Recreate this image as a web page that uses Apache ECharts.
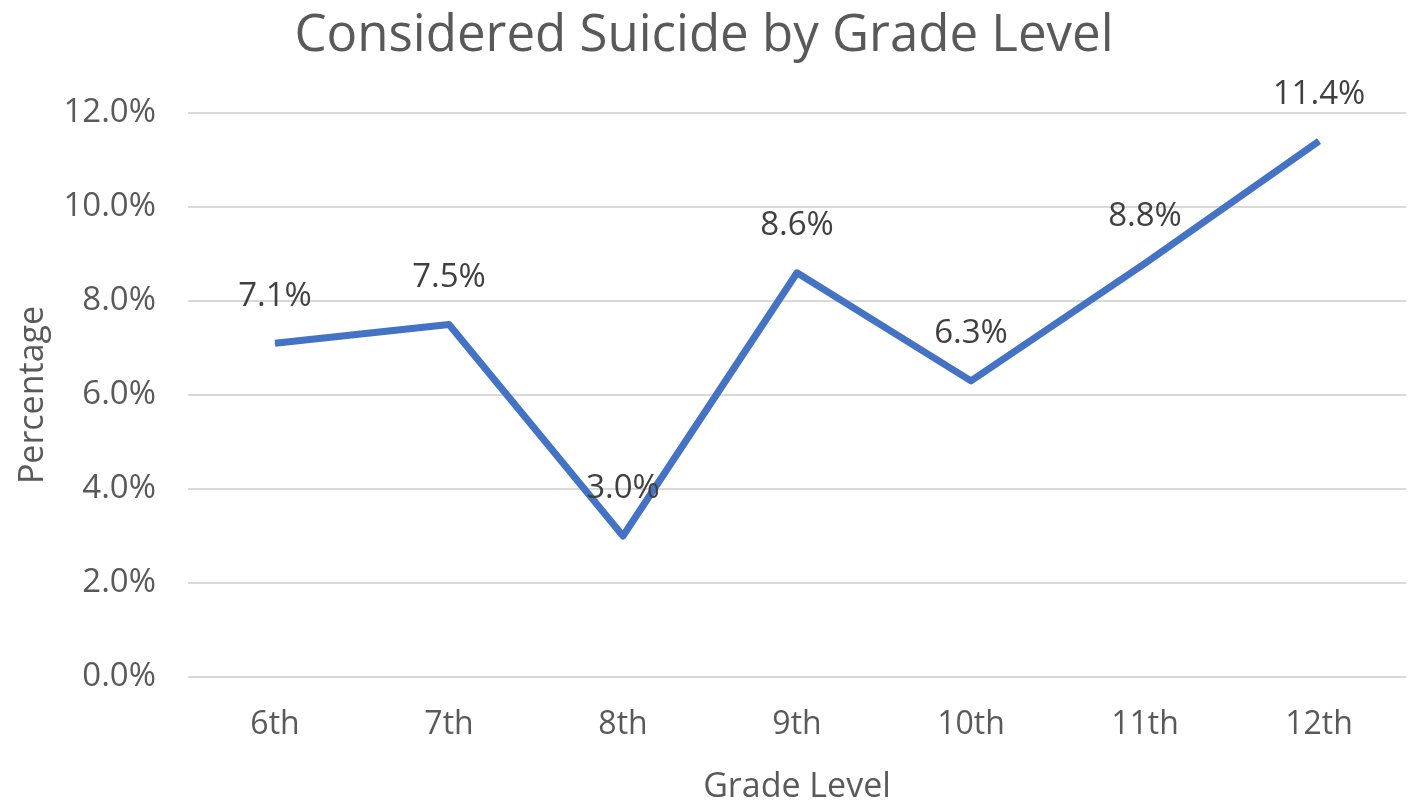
<!DOCTYPE html>
<html>
<head>
<meta charset="utf-8">
<script src="https://cdn.jsdelivr.net/npm/echarts@6/dist/echarts.min.js"></script>
<style>html,body{margin:0;padding:0;background:#fff}#c{width:1408px;height:808px}</style>
</head>
<body>
<div id="c"></div>
<script>
const title = "Considered Suicide by Grade Level";
const grades = ["6th", "7th", "8th", "9th", "10th", "11th", "12th"];
const percentages = [7.1, 7.5, 3.0, 8.6, 6.3, 8.8, 11.4];
const yTicks = { min: 0, max: 12, interval: 2 };
const xName = "Grade Level";
const yName = "Percentage";

const FONT = "'Open Sans', sans-serif";
const chart = echarts.init(document.getElementById('c'));
chart.setOption({
  animation: false,
  backgroundColor: '#fff',
  title: {
    text: title, left: 'center', top: 6,
    textStyle: { fontFamily: FONT, fontSize: 51, fontWeight: 'normal', color: '#595959' }
  },
  grid: { left: 188, right: 2, top: 113, bottom: 131, outerBoundsMode: 'none' },
  xAxis: {
    type: 'category', data: grades, boundaryGap: true,
    name: xName, nameLocation: 'middle', nameGap: 93,
    nameTextStyle: { fontFamily: FONT, fontSize: 34, color: '#595959' },
    axisLine: { show: false }, axisTick: { show: false },
    axisLabel: { fontFamily: FONT, fontSize: 32, color: '#595959', margin: 32 }
  },
  yAxis: {
    type: 'value', min: yTicks.min, max: yTicks.max, interval: yTicks.interval,
    name: yName, nameLocation: 'middle', nameGap: 138, nameRotate: 90,
    nameTextStyle: { fontFamily: FONT, fontSize: 34, color: '#595959' },
    axisLine: { show: false }, axisTick: { show: false },
    axisLabel: { fontFamily: FONT, fontSize: 33, color: '#595959', margin: 32,
      formatter: v => v.toFixed(1) + '%' },
    splitLine: { lineStyle: { color: '#d9d9d9', width: 2 } }
  },
  series: [{
    type: 'line', data: percentages, showSymbol: true, symbol: 'circle', symbolSize: 1,
    lineStyle: { color: '#4472C4', width: 7, join: 'round' },
    itemStyle: { color: '#4472C4' },
    label: { show: true, position: 'top', distance: 30,
      fontFamily: FONT, fontSize: 33, color: '#404040',
      formatter: p => p.value.toFixed(1) + '%' },
    labelLayout: { hideOverlap: false }
  }]
});
</script>
</body>
</html>
